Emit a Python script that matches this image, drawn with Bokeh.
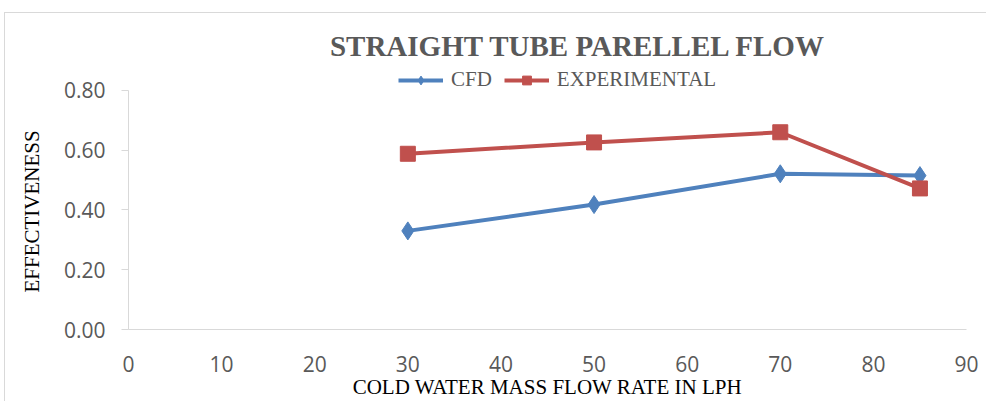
from bokeh.plotting import figure
from bokeh.models import Range1d, Legend, LegendItem, Label, Title, FixedTicker, NumeralTickFormatter
from bokeh.embed import file_html
from bokeh.resources import INLINE

# Data
flow_rate = [30, 50, 70, 85]
cfd = [0.33, 0.418, 0.521, 0.515]
experimental = [0.588, 0.626, 0.660, 0.472]
x_ticks = [0, 10, 20, 30, 40, 50, 60, 70, 80, 90]
y_ticks = [0.0, 0.2, 0.4, 0.6, 0.8]

title_text = "STRAIGHT TUBE PARELLEL FLOW"
x_label = "COLD WATER MASS FLOW RATE IN LPH"
y_label = "EFFECTIVENESS"

BLUE = "#4f81bd"
RED = "#c0504d"
GRAY = "#595959"
AXIS = "#d9d9d9"

# frame spans from 0 up to a headroom above the 0.80 axis end, holding title and legend
Y_TOP = 1.054

p = figure(width=986, height=401, output_backend="svg", toolbar_location=None,
           x_range=Range1d(0, 90), y_range=Range1d(0, Y_TOP),
           min_border_left=127, min_border_right=20, min_border_top=14, min_border_bottom=72)
p.grid.visible = False
p.outline_line_color = None
p.background_fill_color = "white"
p.border_fill_color = None
# light chart-area border (top and left edges, as in the reference)
p.styles = {
    "background": ("linear-gradient(#d9d9d9, #d9d9d9) 4px 12px / 1px 100% no-repeat, "
                   "linear-gradient(#d9d9d9, #d9d9d9) 4px 12px / 100% 1px no-repeat, white"),
}

l1 = p.line(flow_rate, cfd, line_color=BLUE, line_width=4)
m1 = p.scatter(flow_rate, cfd, marker="diamond", size=18, fill_color=BLUE, line_color=BLUE)
l2 = p.line(flow_rate, experimental, line_color=RED, line_width=4)
m2 = p.scatter(flow_rate, experimental, marker="square", size=15, fill_color=RED, line_color=RED)

# Axes
xa = p.xaxis[0]
xa.ticker = FixedTicker(ticks=x_ticks)
xa.axis_line_color = AXIS
xa.major_tick_line_color = None
xa.minor_tick_line_color = None
xa.major_label_text_font = "Open Sans"
xa.major_label_text_font_size = "21px"
xa.major_label_text_color = GRAY
xa.major_label_standoff = 20
xa.axis_label = x_label
xa.axis_label_text_font = "Liberation Serif"
xa.axis_label_text_font_style = "normal"
xa.axis_label_text_font_size = "21px"
xa.axis_label_text_color = "black"
xa.axis_label_standoff = 0

ya = p.yaxis[0]
ya.ticker = FixedTicker(ticks=y_ticks)
ya.bounds = (y_ticks[0], y_ticks[-1])
ya.formatter = NumeralTickFormatter(format="0.00")
ya.axis_line_color = AXIS
ya.major_tick_line_color = AXIS
ya.major_tick_in = 0
ya.major_tick_out = 7
ya.minor_tick_line_color = None
ya.major_label_text_font = "Open Sans"
ya.major_label_text_font_size = "21px"
ya.major_label_text_color = GRAY
ya.major_label_standoff = 16

# y-axis title as a side title so that it can be centred on the 0-0.80 span
ytitle = Title(text=y_label, align="left", offset=37, standoff=34,
               text_font="Liberation Serif", text_font_style="normal",
               text_font_size="21px", text_color="black")
p.add_layout(ytitle, "left")

# Chart title
title = Label(x=48.3, y=0.949, text=title_text, text_font="Liberation Serif",
              text_font_style="bold", text_font_size="29px", text_color=GRAY,
              text_align="center", text_baseline="middle")
p.add_layout(title)

# Legend (location in screen px from the frame's bottom-left)
legend = Legend(items=[LegendItem(label="CFD", renderers=[l1, m1]),
                       LegendItem(label="EXPERIMENTAL", renderers=[l2, m2])],
                location=(270, 237), orientation="horizontal",
                label_text_font="Liberation Serif", label_text_font_size="21px",
                label_text_color=GRAY, glyph_width=45, glyph_height=22,
                label_standoff=8, spacing=12, padding=2, margin=0,
                border_line_color=None, background_fill_alpha=0)
p.add_layout(legend)

open("out.html", "w").write(file_html(p, INLINE))
